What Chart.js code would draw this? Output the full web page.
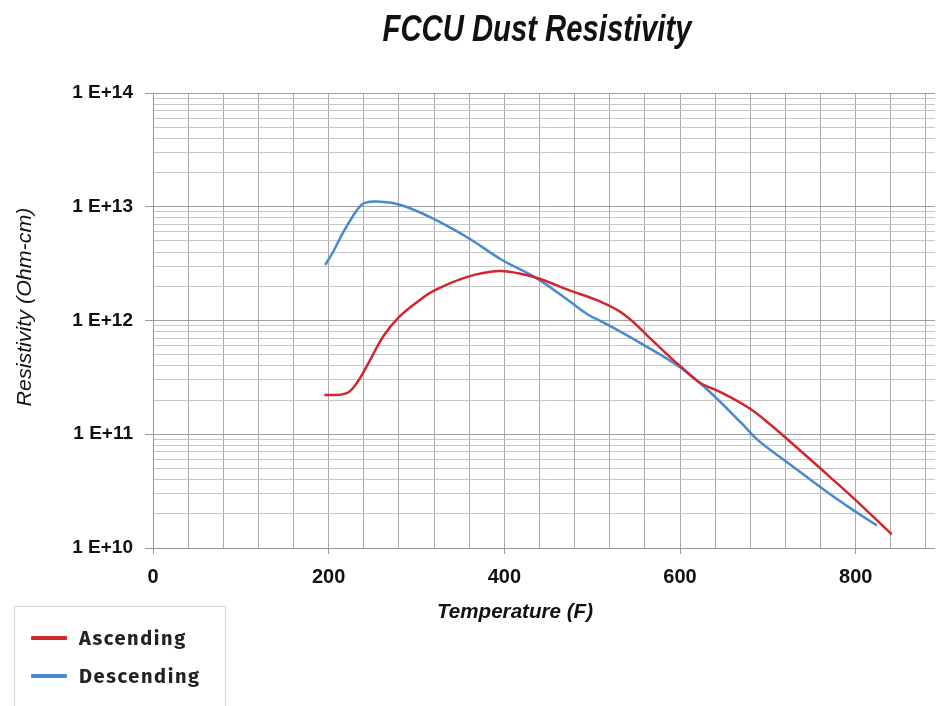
<!DOCTYPE html>
<html>
<head>
<meta charset="utf-8">
<title>FCCU Dust Resistivity</title>
<script src="https://cdn.jsdelivr.net/npm/chart.js@4.4.1/dist/chart.umd.min.js"></script>
<style>
html,body{margin:0;padding:0;background:#fff}
.wrap{position:relative;width:937px;height:706px;overflow:hidden}
.legend{position:absolute;left:14px;top:606px;width:212px;height:110px;border:1.5px solid #d4d4d4;box-sizing:border-box;font-family:'Fira Sans','Open Sans','Noto Sans',sans-serif;font-weight:700;font-size:20px;letter-spacing:1.6px;color:#222}
.legend div{position:absolute;left:64px;display:flex;align-items:center}
.legend i{position:absolute;left:-48px;top:50%;width:36px;height:4px;margin-top:-2px;border-radius:1px}
</style>
</head>
<body>
<div class="wrap">
  <canvas id="chart" width="937" height="706"></canvas>
  <div class="legend">
    <div style="top:19px"><i style="background:#d3252e"></i>Ascending</div>
    <div style="top:57px"><i style="background:#4a88cf"></i>Descending</div>
  </div>
</div>
<script>
// temperature (F) / resistivity (ohm-cm)
const ascTemps = [195, 220, 232, 247, 262, 280, 300, 320, 358, 393, 417, 440, 475, 506, 537, 569, 600, 623, 643, 678, 701, 728, 759, 798, 841];
const ascResistivity = [2.21e11, 2.29e11, 2.82e11, 4.47e11, 7.24e11, 1.07e12, 1.44e12, 1.83e12, 2.42e12, 2.72e12, 2.59e12, 2.33e12, 1.83e12, 1.50e12, 1.12e12, 6.61e11, 3.98e11, 2.82e11, 2.41e11, 1.71e11, 1.25e11, 8.24e10, 5.07e10, 2.72e10, 1.32e10];

const descTemps = [196, 205, 216, 227, 237, 245, 255, 273, 292, 319, 358, 397, 436, 475, 495, 514, 553, 600, 630, 670, 689, 720, 767, 798, 824];
const descResistivity = [3.08e12, 4.0e12, 5.87e12, 8.13e12, 1.035e13, 1.10e13, 1.11e13, 1.08e13, 9.75e12, 7.85e12, 5.37e12, 3.42e12, 2.37e12, 1.46e12, 1.13e12, 9.5e11, 6.46e11, 3.89e11, 2.51e11, 1.25e11, 8.83e10, 5.82e10, 3.12e10, 2.13e10, 1.58e10];

// axes
const yDecades = [1e10, 1e11, 1e12, 1e13, 1e14];
const yTickLabels = ['1 E+10', '1 E+11', '1 E+12', '1 E+13', '1 E+14'];
const yMinorSteps = [2, 3, 4, 5, 6, 7, 8, 9];
const xLabelValues = [0, 200, 400, 600, 800];
const xGridStep = 40;
const xMin = 0, xMax = 890;

const yGrid = [];
yDecades.forEach((d, i) => {
  yGrid.push(d);
  if (i < yDecades.length - 1) yMinorSteps.forEach(m => yGrid.push(d * m));
});
const xGrid = [];
for (let v = xMin; v < xMax; v += xGridStep) xGrid.push(v);

const isDecade = v => yDecades.some(d => Math.abs(v - d) < d * 1e-6);
const toPoints = (xs, ys) => xs.map((x, i) => ({ x: x, y: ys[i] }));

// condensed text helper
function fitText(ctx, text, font, x, y, width, rotate) {
  ctx.save();
  ctx.translate(x, y);
  if (rotate) ctx.rotate(-Math.PI / 2);
  ctx.font = font;
  ctx.fillStyle = '#111';
  ctx.textAlign = 'center';
  ctx.textBaseline = 'alphabetic';
  const w = ctx.measureText(text).width;
  ctx.scale(width / w, 1);
  ctx.fillText(text, 0, 0);
  ctx.restore();
}

const labels = {
  id: 'labels',
  afterDraw(chart) {
    const ctx = chart.ctx;
    fitText(ctx, 'FCCU Dust Resistivity', 'italic bold 36px "Liberation Sans", Arial, sans-serif', 537, 41, 309, false);
    fitText(ctx, 'Temperature (F)', 'italic bold 21px "Liberation Sans", Arial, sans-serif', 515, 618, 156, false);
    fitText(ctx, 'Resistivity (Ohm-cm)', 'italic 20px "Liberation Sans", Arial, sans-serif', 31, 307, 199, true);
  }
};

new Chart(document.getElementById('chart'), {
  type: 'line',
  data: {
    datasets: [
      { label: 'Ascending', data: toPoints(ascTemps, ascResistivity), borderColor: '#d3252e', borderWidth: 2.5, pointRadius: 0, tension: 0.4 },
      { label: 'Descending', data: toPoints(descTemps, descResistivity), borderColor: '#4a88cf', borderWidth: 2.5, pointRadius: 0, tension: 0.4 }
    ]
  },
  options: {
    responsive: false,
    animation: false,
    layout: { padding: { top: 93, right: 1, bottom: 118, left: 0 } },
    plugins: { legend: { display: false }, title: { display: false }, tooltip: { enabled: false } },
    scales: {
      x: {
        type: 'linear', min: xMin, max: xMax,
        afterBuildTicks: s => { s.ticks = xGrid.map(v => ({ value: v })); },
        afterFit: s => { s.height = 40; },
        grid: {
          color: '#ababab', lineWidth: 1, tickLength: 6,
          tickColor: c => xLabelValues.includes(c.tick && c.tick.value) ? '#999' : 'rgba(0,0,0,0)'
        },
        border: { color: '#999' },
        ticks: {
          autoSkip: false, maxRotation: 0, padding: 11, color: '#111',
          font: { family: '"Liberation Sans", Arial, sans-serif', size: 20, weight: 'bold' },
          callback: v => xLabelValues.includes(v) ? String(v) : ''
        }
      },
      y: {
        type: 'logarithmic', min: yDecades[0], max: yDecades[yDecades.length - 1],
        afterBuildTicks: s => { s.ticks = yGrid.map(v => ({ value: v })); },
        afterFit: s => { s.width = 153; },
        grid: {
          color: c => isDecade(c.tick.value) ? '#a0a0a0' : '#c6c6c6', lineWidth: 1, tickLength: 8,
          tickColor: c => isDecade(c.tick.value) ? '#999' : 'rgba(0,0,0,0)'
        },
        border: { color: '#999' },
        ticks: {
          autoSkip: false, padding: 12, color: '#111',
          font: { family: '"Liberation Sans", Arial, sans-serif', size: 19, weight: 'bold' },
          callback: v => { const i = yDecades.findIndex(d => Math.abs(v - d) < d * 1e-6); return i >= 0 ? yTickLabels[i] : ''; }
        }
      }
    }
  },
  plugins: [labels]
});
</script>
</body>
</html>
